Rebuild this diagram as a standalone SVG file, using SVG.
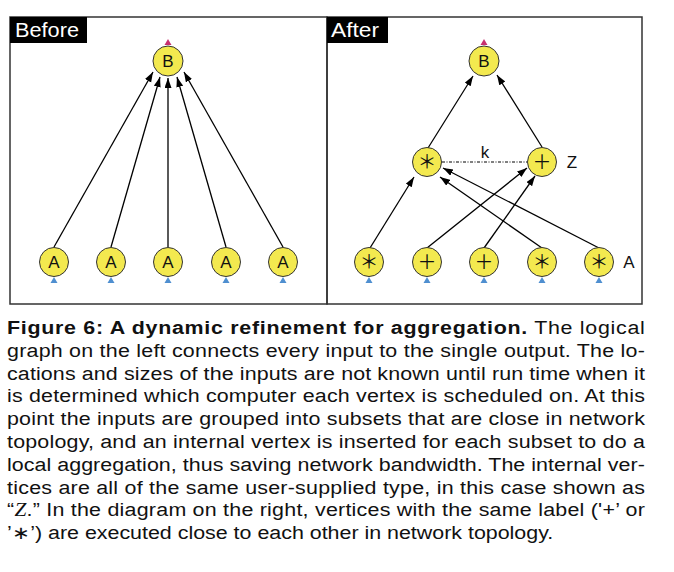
<svg xmlns="http://www.w3.org/2000/svg" width="674" height="572" viewBox="0 0 674 572">
<style>
.frame{fill:none;stroke:#333;stroke-width:1.5}
.tag{fill:#000}
.tagtxt{fill:#fff;font-family:"Liberation Sans",Arial,sans-serif;font-size:20px}
.node{fill:#f3e94f;stroke:#333;stroke-width:1}
.lbl{font-family:"Liberation Sans",Arial,sans-serif;font-size:17px;fill:#111;text-anchor:middle}
.sym{font-family:"Noto Sans CJK JP","Noto Sans CJK SC",sans-serif;font-size:19px;fill:#111;text-anchor:middle}
.edge{fill:none;stroke:#000;stroke-width:1.3;marker-end:url(#arr)}
.dash{fill:none;stroke:#000;stroke-width:1;stroke-dasharray:3 1.5 1 1.5}
.in{fill:#4f8fd0}
.out{fill:#c8306e}
.cap{font-family:"Liberation Sans",Arial,sans-serif;font-size:18px;fill:#111}
</style>
<defs>
<marker id="arr" markerUnits="userSpaceOnUse" markerWidth="11" markerHeight="8" refX="10" refY="3.5" orient="auto">
<path d="M0,0 L10,3.5 L0,7 z" fill="#000"/>
</marker>
</defs>
<rect width="674" height="572" fill="#fff"/>

<g id="panel-before">
<rect class="frame" x="10" y="17" width="317" height="287"/>
<rect class="tag" x="10" y="17" width="77" height="26"/>
<text class="tagtxt" x="15" y="37" textLength="64" lengthAdjust="spacingAndGlyphs">Before</text>
</g>
<g id="panel-after">
<rect class="frame" x="327" y="17" width="315" height="287"/>
<rect class="tag" x="327" y="17" width="61" height="26"/>
<text class="tagtxt" x="331" y="37" textLength="48" lengthAdjust="spacingAndGlyphs">After</text>
</g>

<g id="connectors">
<line class="edge" x1="54" y1="247" x2="153" y2="72"/>
<line class="edge" x1="111" y1="247" x2="160" y2="77"/>
<line class="edge" x1="168" y1="247" x2="168" y2="78"/>
<line class="edge" x1="226" y1="247" x2="177" y2="77"/>
<line class="edge" x1="283" y1="247" x2="184" y2="72"/>

<line class="edge" x1="428" y1="148" x2="473" y2="76"/>
<line class="edge" x1="542" y1="147" x2="497" y2="75"/>
<line class="edge" x1="370" y1="248" x2="414" y2="177"/>
<line class="edge" x1="427" y1="248" x2="527" y2="168"/>
<line class="edge" x1="484" y1="248" x2="535" y2="176"/>
<line class="edge" x1="542" y1="248" x2="440" y2="177"/>
<line class="edge" x1="599" y1="248" x2="443" y2="168"/>
<line class="dash" x1="442" y1="162" x2="527" y2="162"/>
</g>

<g id="before-B">
<polygon class="out" points="168,39 171.5,45 164.5,45"/>
<circle class="node" cx="168" cy="61" r="15"/>
<text class="lbl" x="168" y="67">B</text>
</g>
<g id="before-A1"><circle class="node" cx="54" cy="262" r="14.5"/><text class="lbl" x="54" y="268">A</text><polygon class="in" points="54,277 57.5,283 50.5,283"/></g>
<g id="before-A2"><circle class="node" cx="111" cy="262" r="14.5"/><text class="lbl" x="111" y="268">A</text><polygon class="in" points="111,277 114.5,283 107.5,283"/></g>
<g id="before-A3"><circle class="node" cx="168" cy="262" r="14.5"/><text class="lbl" x="168" y="268">A</text><polygon class="in" points="168,277 171.5,283 164.5,283"/></g>
<g id="before-A4"><circle class="node" cx="226" cy="262" r="14.5"/><text class="lbl" x="226" y="268">A</text><polygon class="in" points="226,277 229.5,283 222.5,283"/></g>
<g id="before-A5"><circle class="node" cx="283" cy="262" r="14.5"/><text class="lbl" x="283" y="268">A</text><polygon class="in" points="283,277 286.5,283 279.5,283"/></g>

<g id="after-B">
<polygon class="out" points="484,39 487.5,45 480.5,45"/>
<circle class="node" cx="484" cy="61" r="15"/>
<text class="lbl" x="484" y="67">B</text>
</g>
<g id="after-Zstar"><circle class="node" cx="427" cy="162" r="14.5"/><text class="sym" x="427" y="169">＊</text></g>
<g id="after-Zplus"><circle class="node" cx="542" cy="162" r="14.5"/><text class="sym" x="542" y="168.5">＋</text></g>
<text class="lbl" x="485" y="158" font-size="16">k</text>
<text class="lbl" x="572" y="168" font-size="18">Z</text>

<g id="after-A1"><circle class="node" cx="369" cy="262" r="14.5"/><text class="sym" x="369" y="269">＊</text><polygon class="in" points="369,277 372.5,283 365.5,283"/></g>
<g id="after-A2"><circle class="node" cx="427" cy="262" r="14.5"/><text class="sym" x="427" y="268.5">＋</text><polygon class="in" points="427,277 430.5,283 423.5,283"/></g>
<g id="after-A3"><circle class="node" cx="484" cy="262" r="14.5"/><text class="sym" x="484" y="268.5">＋</text><polygon class="in" points="484,277 487.5,283 480.5,283"/></g>
<g id="after-A4"><circle class="node" cx="542" cy="262" r="14.5"/><text class="sym" x="542" y="269">＊</text><polygon class="in" points="542,277 545.5,283 538.5,283"/></g>
<g id="after-A5"><circle class="node" cx="599" cy="262" r="14.5"/><text class="sym" x="599" y="269">＊</text><polygon class="in" points="599,277 602.5,283 595.5,283"/></g>
<text class="lbl" x="629" y="268" font-size="18">A</text>

<g id="caption" transform="scale(1.19 1)">
<text class="cap" x="5.9" y="334" textLength="536" lengthAdjust="spacing"><tspan font-weight="bold">Figure 6:  A dynamic refinement for aggregation.</tspan>  The logical</text>
<text class="cap" x="5.9" y="356.8" textLength="536" lengthAdjust="spacing">graph on the left connects every input to the single output.  The lo-</text>
<text class="cap" x="5.9" y="379.6" textLength="536" lengthAdjust="spacing">cations and sizes of the inputs are not known until run time when it</text>
<text class="cap" x="5.9" y="402.4" textLength="536" lengthAdjust="spacing">is determined which computer each vertex is scheduled on.  At this</text>
<text class="cap" x="5.9" y="425.2" textLength="536" lengthAdjust="spacing">point the inputs are grouped into subsets that are close in network</text>
<text class="cap" x="5.9" y="448" textLength="536" lengthAdjust="spacing">topology, and an internal vertex is inserted for each subset to do a</text>
<text class="cap" x="5.9" y="470.8" textLength="536" lengthAdjust="spacing">local aggregation, thus saving network bandwidth. The internal ver-</text>
<text class="cap" x="5.9" y="493.6" textLength="536" lengthAdjust="spacing">tices are all of the same user-supplied type, in this case shown as</text>
<text class="cap" x="5.9" y="516.4" textLength="536" lengthAdjust="spacing">“<tspan font-family="'Liberation Serif',serif" font-style="italic">Z</tspan>.” In the diagram on the right, vertices with the same label ('+’ or</text>
<text class="cap" x="5.9" y="539.2">’∗’) are executed close to each other in network topology.</text>
</g>
</svg>
